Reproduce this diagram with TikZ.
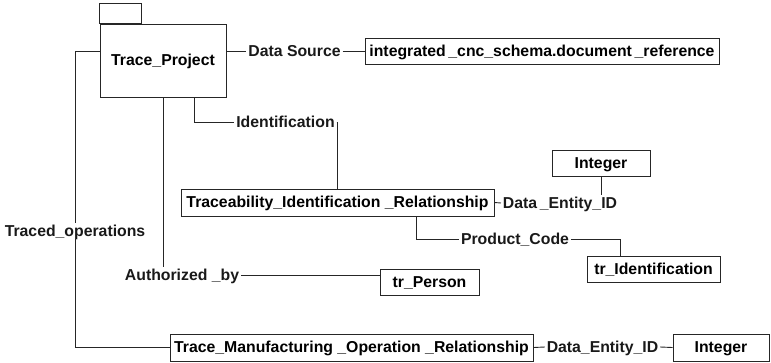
\documentclass[tikz,border=0pt]{standalone}
\usepackage{fontspec}
\setmainfont{Liberation Sans}
\usetikzlibrary{calc}
\begin{document}
\begin{tikzpicture}[x=1pt,y=-1pt,line width=0.9pt,draw=black!85,
  font=\fontsize{15.8}{18}\selectfont\bfseries,
  box/.style={draw,rectangle,inner sep=0pt,minimum height=26pt,text height=11.5pt,text depth=1.5pt},
  lbl/.style={inner sep=1.5pt,text=black!90,text height=11.5pt,text depth=1.5pt}]
\useasboundingbox (0,0) rectangle (771,362);
\node[box,minimum width=126pt,minimum height=73pt] (proj) at (163,60.5) {Trace\_Project};
\draw (proj.north west) rectangle ++(42,-20);
\node[box,minimum width=354pt] (src) at (542,51) {integrated\,\_cnc\_schema.document\,\_reference};
\node[box,minimum width=313pt,minimum height=27pt] (tir) at (337.5,202.5) {Traceability\_Identification \_Relationship};
\node[box,minimum width=98pt] (int1) at (601,163) {Integer};
\node[box,minimum width=133pt] (trid) at (653.5,269) {tr\_Identification};
\node[box,minimum width=99pt] (pers) at (429.5,282) {tr\_Person};
\node[box,minimum width=363pt,minimum height=27pt] (tmor) at (351.5,347.5) {Trace\_Manufacturing \_Operation \_Relationship};
\node[box,minimum width=96pt,minimum height=27pt] (int2) at (721,347.5) {Integer};
% role labels
\node[lbl] (lsrc) at (294.5,51) {Data Source};
\node[lbl] (lid) at (285.5,122) {Identification};
\node[lbl] (lde1) at (560,203) {Data\,\_Entity\_ID};
\node[lbl] (lpc) at (515,239) {Product\_Code};
\node[lbl] (lauth) at (182,275) {Authorized \_by};
\node[lbl] (ltr) at (75,231) {Traced\_operations};
\node[lbl] (lde2) at (602.5,347) {Data\_Entity\_ID};
% connectors
\draw (proj.east |- lsrc) -- (lsrc.west);
\draw (lsrc.east) -- (src.west);
\draw ($(proj.south)!0.5!(proj.south east)$) |- (lid.west);
\draw (lid.east) -| (tir.north);
\draw (tir.east) -- (lde1.west);
\draw (int1.south) -- (int1.south |- lde1.north);
\draw ($(tir.south)!0.5!(tir.south east)$) |- (lpc.west);
\draw (lpc.east) -| ($(trid.north west)!0.5!(trid.north)$);
\draw (proj.south) -- (proj.south |- lauth.north);
\draw (lauth.east) -- (lauth.east -| pers.west);
\draw (proj.west |- lsrc) -| (ltr.north);
\draw (ltr.south) |- (tmor.west);
\draw (tmor.east) -- (lde2.west);
\draw (lde2.east) -- (int2.west);
\end{tikzpicture}
\end{document}
